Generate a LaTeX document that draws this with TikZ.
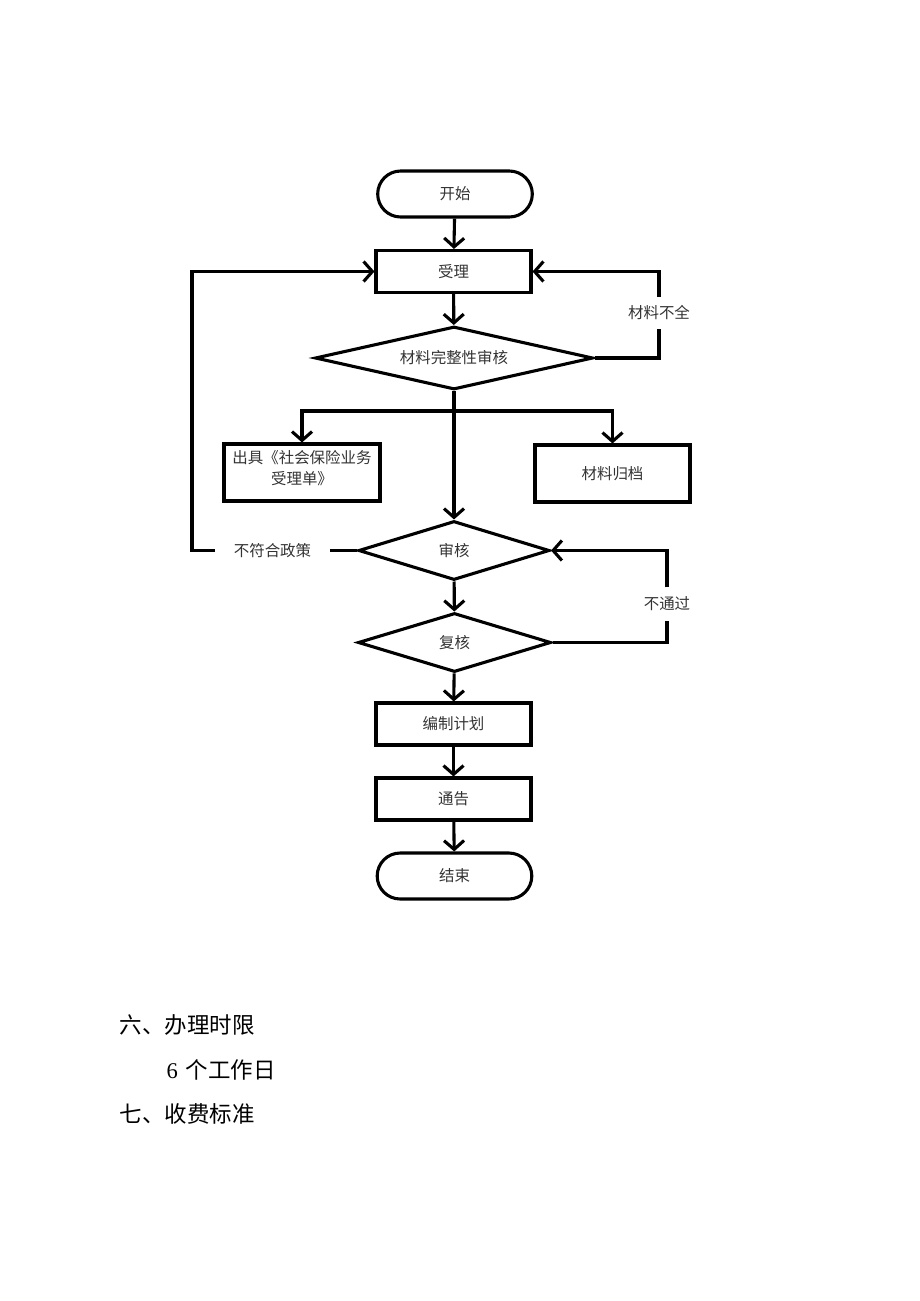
\documentclass[tikz,border=0pt]{standalone}
\usepackage{fontspec}
\setmainfont{Liberation Serif}
\newfontfamily\cjk{Noto Sans CJK SC}
\usetikzlibrary{shapes,arrows.meta}
\definecolor{inkgray}{HTML}{333333}

\begin{document}
\begin{tikzpicture}[x=0.25mm,y=-0.25mm,line width=2.2pt,
  every node/.style={font=\cjk\fontsize{11}{15}\selectfont,text=inkgray},
  flow/.style={-{Straight Barb[length=2.2mm,width=5mm]}},
  term/.style={draw,rounded rectangle,minimum width=41mm,minimum height=11.5mm},
  proc/.style={draw,rectangle,minimum width=38.75mm,minimum height=10.5mm},
  check/.style={draw,diamond,inner sep=0pt,minimum height=14.75mm},
  tag/.style={inner sep=0pt},
  heading/.style={anchor=west,inner sep=0pt,text=black,font=\cjk\fontsize{16}{20}\selectfont}]
  \useasboundingbox (0,0) rectangle (920,1301);
  \node[term] (start) at (455,194) {开始};
  \node[proc] (accept) at (453.5,271.5) {受理};
  \node[check,aspect=4.4,minimum width=69.5mm,minimum height=15.75mm] (complete) at (454,358) {材料完整性审核};
  \node[proc,minimum width=39mm,minimum height=14.25mm,align=center,text depth=2.6mm] (receipt) at (302,472.5) {出具《社会保险业务\\受理单》};
  \node[proc,minimum height=14.25mm] (archive) at (612.5,473.5) {材料归档};
  \node[check,aspect=3.2,minimum width=47.75mm] (audit) at (454,550.5) {审核};
  \node[check,aspect=3.2,minimum width=48.25mm] (recheck) at (454.5,642.5) {复核};
  \node[proc] (plan) at (453.5,724) {编制计划};
  \node[proc] (notice) at (453.5,799) {通告};
  \node[term] (finish) at (454.5,876) {结束};
  \node[tag,inner ysep=1.8mm] (lack) at (659,313) {材料不全};
  \node[tag,inner xsep=4.3mm] (policy) at (272.5,550.5) {不符合政策};
  \node[tag,inner ysep=2mm] (fail) at (667,604) {不通过};
  \coordinate (split) at (454,411);
  \coordinate (lturn) at (192,271.5);

  \draw[flow] (start) -- (accept);
  \draw[flow] (accept) -- (complete);
  \draw (complete.east) -| (lack.south);
  \draw[flow] (lack.north) |- (accept.east);
  \draw[flow] (complete.south) -- (audit.north);
  \draw[flow] (split) -| (receipt.north);
  \draw[flow] (split) -| (archive.north);
  \draw (audit.west) -- (policy.east);
  \draw[flow] (policy.west) -| (lturn) -- (accept.west);
  \draw[flow] (audit) -- (recheck);
  \draw (recheck.east) -| (fail.south);
  \draw[flow] (fail.north) |- (audit.east);
  \draw[flow] (recheck) -- (plan);
  \draw[flow] (plan) -- (notice);
  \draw[flow] (notice) -- (finish);

  \node[heading] (sec6) at (118,1025) {六、办理时限};
  \node[heading] (days) at (165,1070) {{\rmfamily 6}\hspace{0.35em}个工作日};
  \node[heading] (sec7) at (118,1114) {七、收费标准};
\end{tikzpicture}
\end{document}
